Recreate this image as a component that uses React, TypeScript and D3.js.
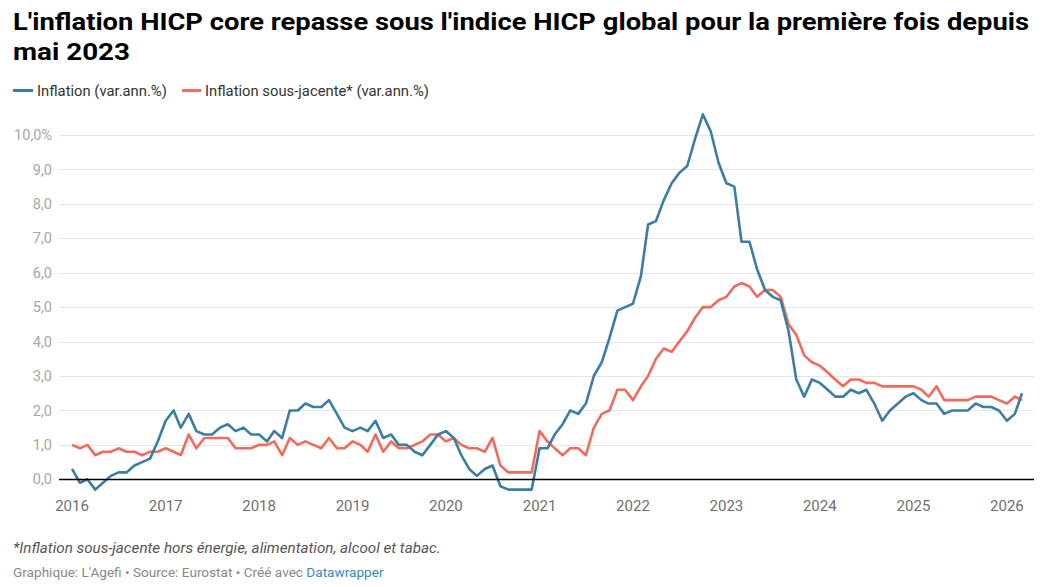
import React from "react";
import * as d3 from "d3";

// monthly data, Jan 2016 -> Mar 2026
const START = new Date(2016, 0, 1);

const headline = [
  0.3, -0.1, 0.0, -0.3, -0.1, 0.1, 0.2, 0.2, 0.4, 0.5, 0.6, 1.1,
  1.7, 2.0, 1.5, 1.9, 1.4, 1.3, 1.3, 1.5, 1.6, 1.4, 1.5, 1.3,
  1.3, 1.1, 1.4, 1.2, 2.0, 2.0, 2.2, 2.1, 2.1, 2.3, 1.9, 1.5,
  1.4, 1.5, 1.4, 1.7, 1.2, 1.3, 1.0, 1.0, 0.8, 0.7, 1.0, 1.3,
  1.4, 1.2, 0.7, 0.3, 0.1, 0.3, 0.4, -0.2, -0.3, -0.3, -0.3, -0.3,
  0.9, 0.9, 1.3, 1.6, 2.0, 1.9, 2.2, 3.0, 3.4, 4.1, 4.9, 5.0,
  5.1, 5.9, 7.4, 7.5, 8.1, 8.6, 8.9, 9.1, 9.9, 10.6, 10.1, 9.2,
  8.6, 8.5, 6.9, 6.9, 6.1, 5.5, 5.3, 5.2, 4.3, 2.9, 2.4, 2.9,
  2.8, 2.6, 2.4, 2.4, 2.6, 2.5, 2.6, 2.2, 1.7, 2.0, 2.2, 2.4,
  2.5, 2.3, 2.2, 2.2, 1.9, 2.0, 2.0, 2.0, 2.2, 2.1, 2.1, 2.0,
  1.7, 1.9, 2.5,
];

const core = [
  1.0, 0.9, 1.0, 0.7, 0.8, 0.8, 0.9, 0.8, 0.8, 0.7, 0.8, 0.8,
  0.9, 0.8, 0.7, 1.3, 0.9, 1.2, 1.2, 1.2, 1.2, 0.9, 0.9, 0.9,
  1.0, 1.0, 1.1, 0.7, 1.2, 1.0, 1.1, 1.0, 0.9, 1.2, 0.9, 0.9,
  1.1, 1.0, 0.8, 1.3, 0.8, 1.1, 0.9, 0.9, 1.0, 1.1, 1.3, 1.3,
  1.1, 1.2, 1.0, 0.9, 0.9, 0.8, 1.2, 0.4, 0.2, 0.2, 0.2, 0.2,
  1.4, 1.1, 0.9, 0.7, 0.9, 0.9, 0.7, 1.5, 1.9, 2.0, 2.6, 2.6,
  2.3, 2.7, 3.0, 3.5, 3.8, 3.7, 4.0, 4.3, 4.7, 5.0, 5.0, 5.2,
  5.3, 5.6, 5.7, 5.6, 5.3, 5.5, 5.5, 5.3, 4.5, 4.2, 3.6, 3.4,
  3.3, 3.1, 2.9, 2.7, 2.9, 2.9, 2.8, 2.8, 2.7, 2.7, 2.7, 2.7,
  2.7, 2.6, 2.4, 2.7, 2.3, 2.3, 2.3, 2.3, 2.4, 2.4, 2.4, 2.3,
  2.2, 2.4, 2.3,
];

const yTicks = [0, 1, 2, 3, 4, 5, 6, 7, 8, 9, 10];
const xTickYears = [2016, 2017, 2018, 2019, 2020, 2021, 2022, 2023, 2024, 2025, 2026];

const seriesNames = ["Inflation (var.ann.%)", "Inflation sous-jacente* (var.ann.%)"];
const BLUE = "#3b7ea1";
const RED = "#f26a5b";

const W = 1062;
const H = 587;

const fr = d3.formatLocale({ decimal: ",", thousands: " ", grouping: [3], currency: ["", " €"] });
const fmt = fr.format(".1f");

export default function App() {
  const dates = headline.map((_, i) => d3.timeMonth.offset(START, i));
  const x = d3.scaleTime().domain([dates[0], dates[dates.length - 1]]).range([72, 1022]);
  const y = d3.scaleLinear().domain([0, 10]).range([479.3, 135]);

  const line = d3
    .line<number>()
    .x((_, i) => x(dates[i]))
    .y((d) => y(d))
    .curve(d3.curveLinear);

  const font = "Roboto, 'Noto Sans', sans-serif";

  return (
    <svg width={W} height={H} style={{ position: "absolute", left: 0, top: 0, background: "#fff" }} fontFamily={font}>
      {/* title */}
      <g fontWeight={700} fontSize={24} fill="#000">
        <text x={13} y={30} textLength={1016} lengthAdjust="spacingAndGlyphs">
          L'inflation HICP core repasse sous l'indice HICP global pour la première fois depuis
        </text>
        <text x={13} y={60} textLength={117} lengthAdjust="spacingAndGlyphs">mai 2023</text>
      </g>

      {/* legend */}
      <g fontSize={14.8} fill="#333">
        <line x1={13} x2={33} y1={90.5} y2={90.5} stroke={BLUE} strokeWidth={3} />
        <text x={37} y={95.5}>{seriesNames[0]}</text>
        <line x1={182} x2={201} y1={90.5} y2={90.5} stroke={RED} strokeWidth={3} />
        <text x={205} y={95.5}>{seriesNames[1]}</text>
      </g>

      {/* grid + y labels */}
      <g>
        {yTicks.map((t) => (
          <g key={t}>
            {t !== 0 && (
              <line x1={59} x2={1034} y1={Math.round(y(t)) + 0.5} y2={Math.round(y(t)) + 0.5} stroke="#e6e6e6" strokeWidth={1} />
            )}
            <text x={52} y={y(t)} dy="0.35em" textAnchor="end" fontSize={14.5} fill="#a6a6a6">
              {fmt(t) + (t === 10 ? "%" : "")}
            </text>
          </g>
        ))}
      </g>

      {/* x labels */}
      <g fontSize={15} fill="#707070" textAnchor="middle">
        {xTickYears.map((yr) => (
          <text key={yr} x={x(new Date(yr, 0, 1))} y={511}>
            {yr}
          </text>
        ))}
      </g>

      {/* lines */}
      <path d={line(core) ?? undefined} fill="none" stroke={RED} strokeWidth={2.6} strokeLinejoin="round" />
      <path d={line(headline) ?? undefined} fill="none" stroke={BLUE} strokeWidth={2.6} strokeLinejoin="round" />

      {/* zero line */}
      <line x1={59} x2={1034} y1={Math.round(y(0)) + 0.5} y2={Math.round(y(0)) + 0.5} stroke="#000" strokeWidth={1.3} />

      {/* notes */}
      <text x={13} y={553} fontSize={15.2} fontStyle="italic" fill="#555">
        *Inflation sous-jacente hors énergie, alimentation, alcool et tabac.
      </text>
      <text x={13} y={577} fontSize={13.6} fill="#888">
        Graphique: L'Agefi • Source: Eurostat • Créé avec <tspan fill="#3a86c8">Datawrapper</tspan>
      </text>
    </svg>
  );
}
